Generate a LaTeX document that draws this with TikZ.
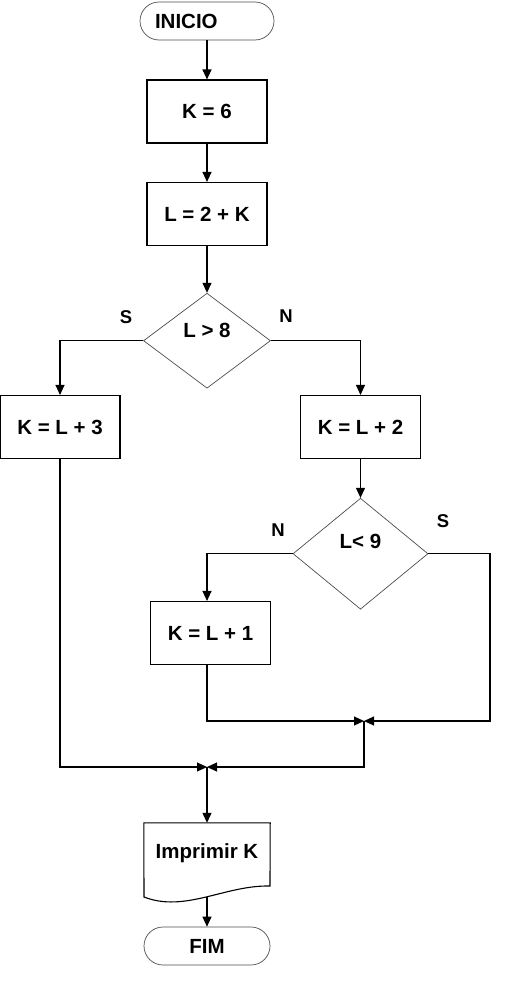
\documentclass[tikz,border=0pt]{standalone}
\usepackage{fontspec}
\setmainfont{Liberation Sans}
\usetikzlibrary{arrows.meta,shapes.geometric}
\tikzset{
  proc/.style={draw,line width=1.1pt,minimum width=120pt,minimum height=63pt,inner sep=0pt,font=\fontsize{20.5}{24}\selectfont\bfseries},
  dec/.style={diamond,draw=black!70,line width=0.7pt,inner sep=0pt,font=\fontsize{20.5}{24}\selectfont\bfseries},
  term/.style={draw=black!70,line width=0.7pt,rounded corners=19pt,minimum height=38pt,inner sep=0pt,font=\fontsize{20.5}{24}\selectfont\bfseries},
  doc/.style={draw,line width=1.1pt},
  flow/.style={line width=1.1pt,-{Triangle[length=10pt,width=9pt]}},
  lbl/.style={font=\fontsize{18.5}{22}\selectfont\bfseries}
}

\begin{document}
\begin{tikzpicture}[x=1pt,y=-1pt]
\useasboundingbox (0,0) rectangle (506,988);
% blocos
\node[term,text width=104pt,inner xsep=15pt,align=left] (ini) at (207,21) {INICIO};
\node[proc] (k6) at (207,111.5) {K = 6};
\node[proc] (l2k) at (207,214) {L = 2 + K};
\node[dec,minimum width=127pt,minimum height=95pt,text depth=21pt] (d1) at (207,340.7) {L > 8};
\node[proc] (kl3) at (60,427) {K = L + 3};
\node[proc] (kl2) at (360.5,427) {K = L + 2};
\node[dec,minimum width=135pt,minimum height=111pt,text depth=25pt] (d2) at (360.5,553.7) {L< 9};
\node[proc] (kl1) at (210.5,633) {K = L + 1};
\node[minimum width=126pt,minimum height=60pt,inner sep=0pt,font=\fontsize{20.5}{24}\selectfont\bfseries] (prt) at (207,853) {Imprimir K};
\draw[doc] (prt.north west) -- (prt.north east) -- (270,886) .. controls (225,885) and (185,913) .. (144,897) -- cycle;
\node[term,minimum width=126pt] (fim) at (207,946) {FIM};
% rotulos
\node[lbl] (s1) at (126,317) {S};
\node[lbl] (n1) at (286,316) {N};
\node[lbl] (n2) at (278,530) {N};
\node[lbl] (s2) at (443,521) {S};
% pontos de juncao
\coordinate (m1) at (364,721);
\coordinate (m2) at (207,767);
\coordinate (rt) at (490,721);
\coordinate (wv) at (207,897);
% ligacoes
\draw[flow] (ini.south) -- (k6.north);
\draw[flow] (k6.south) -- (l2k.north);
\draw[flow] (l2k.south) -- (d1.north);
\draw[flow] (d1.west) -| (kl3.north);
\draw[flow] (d1.east) -| (kl2.north);
\draw[flow] (kl2.south) -- (d2.north);
\draw[flow] (d2.west) -| (kl1.north -| m2);
\draw[flow] (kl1.south -| m2) |- (m1);
\draw[flow] (d2.east) -| (rt) -- (m1);
\draw[flow] (m1) |- (m2);
\draw[flow] (kl3.south) |- (m2);
\draw[flow] (m2) -- (prt.north);
\draw[flow] (wv) -- (fim.north);
\end{tikzpicture}
\end{document}
